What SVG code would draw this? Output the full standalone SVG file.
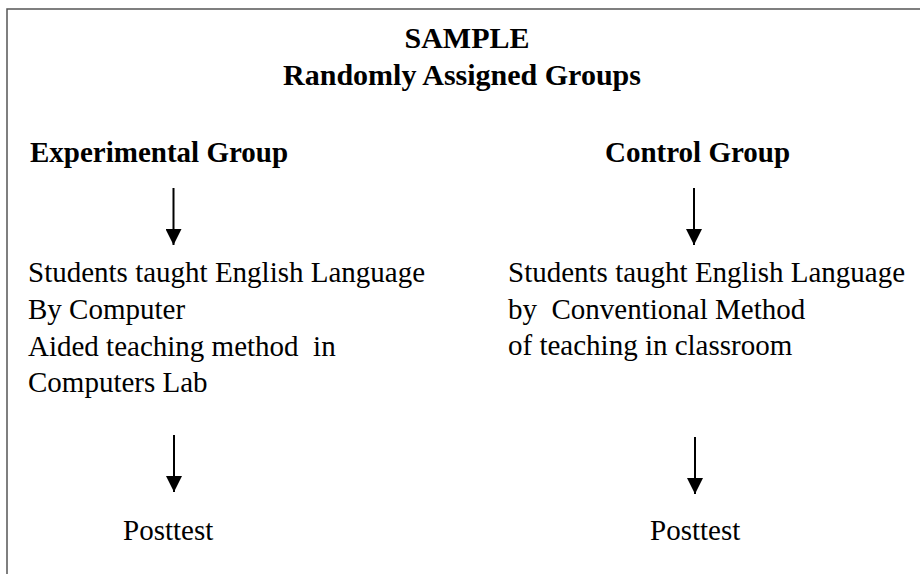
<svg xmlns="http://www.w3.org/2000/svg" width="920" height="574" viewBox="0 0 920 574">
<style>
.t{font-family:"Liberation Serif","Times New Roman",serif;fill:#000;}
.b{font-weight:bold;font-size:29px;}
.title{font-weight:bold;font-size:30px;text-anchor:middle;}
.r{font-size:29px;white-space:pre;}
.frame{fill:none;stroke:#555;stroke-width:1.5;}
.arr{stroke:#000;stroke-width:2;fill:none;}
</style>
<defs>
<marker id="ah" viewBox="0 0 16 16" refX="16" refY="8" markerWidth="16" markerHeight="16" markerUnits="userSpaceOnUse" orient="auto">
<path d="M0,0 L16,8 L0,16 z" fill="#000"/>
</marker>
</defs>
<rect width="920" height="574" fill="#fff"/>
<path class="frame" d="M7,574 L7,9 L920,9"/>
<g id="title">
<text class="t title" x="467" y="48">SAMPLE</text>
<text class="t title" x="462" y="85">Randomly Assigned Groups</text>
</g>
<g id="experimental">
<text class="t b" x="30" y="162">Experimental Group</text>
</g>
<g id="control">
<text class="t b" x="605" y="162">Control Group</text>
</g>
<g id="exp-treatment">
<text class="t r" x="28" y="282">Students taught English Language</text>
<text class="t r" x="28" y="319">By Computer</text>
<text class="t r" x="28" y="356">Aided teaching method  in</text>
<text class="t r" x="28" y="392">Computers Lab</text>
</g>
<g id="ctrl-treatment">
<text class="t r" x="508" y="282">Students taught English Language</text>
<text class="t r" x="508" y="319">by  Conventional Method</text>
<text class="t r" x="508" y="355">of teaching in classroom</text>
</g>
<g id="exp-posttest">
<text class="t r" x="123" y="540">Posttest</text>
</g>
<g id="ctrl-posttest">
<text class="t r" x="650" y="540">Posttest</text>
</g>
<g id="connectors">
<line class="arr" x1="173.5" y1="188" x2="173.5" y2="245" marker-end="url(#ah)"/>
<line class="arr" x1="694" y1="188" x2="694" y2="245" marker-end="url(#ah)"/>
<line class="arr" x1="174" y1="435" x2="174" y2="492" marker-end="url(#ah)"/>
<line class="arr" x1="695" y1="437" x2="695" y2="494" marker-end="url(#ah)"/>
</g>
</svg>
